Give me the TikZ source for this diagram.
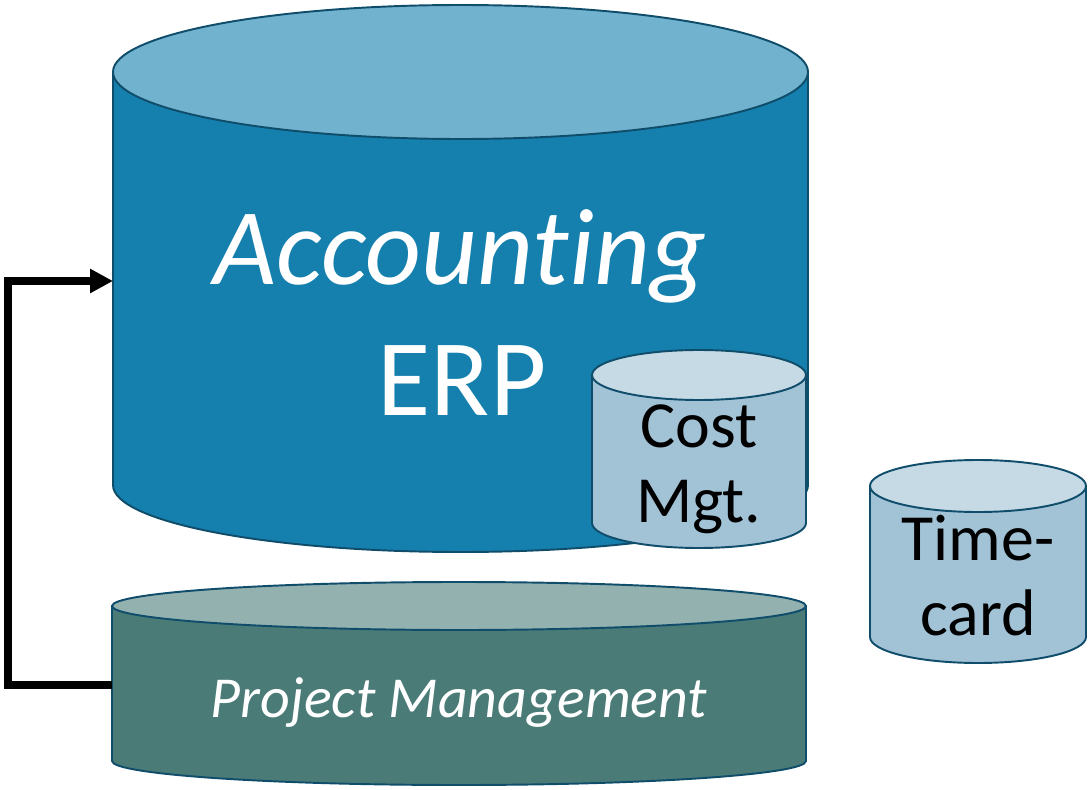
\documentclass[tikz,border=0pt]{standalone}
\usepackage{fontspec}
\setmainfont[Ligatures=NoCommon]{Carlito}
\usetikzlibrary{arrows.meta}
\definecolor{erpbody}{HTML}{1580AE}
\definecolor{erptop}{HTML}{71B2CE}
\definecolor{smallbody}{HTML}{A2C2D6}
\definecolor{smalltop}{HTML}{C5DAE5}
\definecolor{pmbody}{HTML}{4A7B77}
\definecolor{pmtop}{HTML}{93B1AF}
\definecolor{rim}{HTML}{0F4D6B}
% \cylshape{left}{right}{top cy}{bottom cy}{ry}{body}{top}
\newcommand\cylshape[7]{%
  \pgfmathsetmacro\cx{(#1+#2)/2}%
  \pgfmathsetmacro\rx{(#2-#1)/2}%
  \draw[cylline,fill=#6] (#1,#3) -- (#1,#4)
     arc[start angle=180,end angle=360,x radius=\rx,y radius=#5] -- (#2,#3) -- cycle;
  \draw[cylline,fill=#7] (\cx,#3) ellipse[x radius=\rx,y radius=#5];
}
\begin{document}
\begin{tikzpicture}[x=0.02cm,y=0.02cm,
  cylline/.style={draw=rim,line width=1.1pt},
  bigtext/.style={text=white,font=\fontsize{62}{74}\selectfont,anchor=base,inner sep=0pt},
  smalltext/.style={text=black,font=\fontsize{37.5}{45}\selectfont,anchor=base,inner sep=0pt},
  pmtext/.style={text=white,font=\itshape\fontsize{33}{40}\selectfont,anchor=base,inner sep=0pt},
  link/.style={line width=4pt,line join=miter,-{Triangle[length=13pt,width=13pt]}}]
\useasboundingbox (0,0) rectangle (1089,789);
% Accounting ERP
\cylshape{113}{808}{717}{304}{67}{erpbody}{erptop}
\coordinate (erp-w) at (113,508);
\node[bigtext] (acc) at (460,504) {\itshape Account\kern0pt ing};
\node[bigtext] (erp) at (462,374) {ERP};
% Cost Mgt
\cylshape{592}{806}{414}{266}{25}{smallbody}{smalltop}
\node[smalltext] (cost) at (699,342) {Cost};
\node[smalltext] (mgt) at (699,267) {Mgt.};
% Timecard
\cylshape{870}{1086}{303}{152}{26}{smallbody}{smalltop}
\node[smalltext] (time) at (978,229) {Time-};
\node[smalltext] (card) at (978,154) {card};
% Project Management
\cylshape{112}{806}{183}{28}{24}{pmbody}{pmtop}
\coordinate (pm-w) at (112,104);
\node[pmtext] (pm) at (459,72) {Project Management};
% connector
\draw[link] (pm-w) -- (8,104) -- (8,508) -- (erp-w);
\end{tikzpicture}
\end{document}
